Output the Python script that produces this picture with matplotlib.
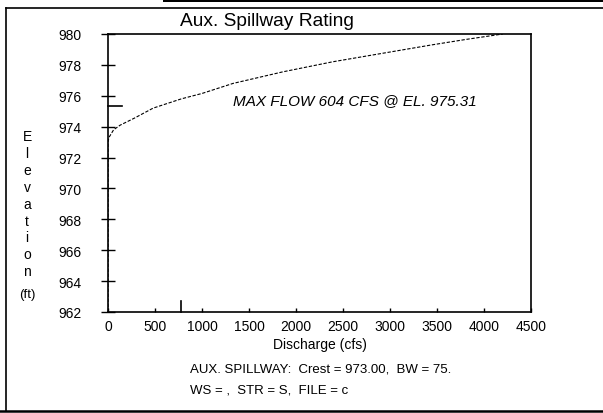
import numpy as np
import matplotlib.pyplot as plt
from matplotlib.lines import Line2D
from matplotlib.patches import Rectangle

# rating curve
discharge = [0, 0, 10, 60, 130, 280, 480, 780, 1000, 1330, 1860, 2390, 2920, 3450, 3810, 4200]
elevation = [962, 973.0, 973.3, 973.8, 974.1, 974.55, 975.2, 975.8, 976.15, 976.8,
             977.55, 978.2, 978.75, 979.3, 979.65, 980.0]

xticks = [0, 500, 1000, 1500, 2000, 2500, 3000, 3500, 4000, 4500]
yticks = [962, 964, 966, 968, 970, 972, 974, 976, 978, 980]

max_el = 975.31
mark_q = 780

title = 'Aux. Spillway Rating'
note = 'MAX FLOW 604 CFS @ EL. 975.31'
footer1 = 'AUX. SPILLWAY:  Crest = 973.00,  BW = 75.'
footer2 = 'WS = ,  STR = S,  FILE = c'

plt.rcParams['font.family'] = ['Liberation Sans', 'DejaVu Sans']

W, H = 603, 414
fig = plt.figure(figsize=(W/100, H/100), dpi=100)
ax = fig.add_axes([108/W, 1-313/H, (531-108)/W, (313-35)/H])

ax.plot(discharge, elevation, color='k', lw=0.8, ls=(0, (3, 1.5)))

ax.set_xlim(0, 4500)
ax.set_ylim(962, 980)
ax.set_xticks(xticks)
ax.set_yticks(yticks)
ax.tick_params(axis='y', direction='inout', length=10, width=1, pad=14, labelsize=10)
ax.tick_params(axis='x', direction='in', length=3, width=1, pad=5, labelsize=10)
for s in ax.spines.values():
    s.set_linewidth(1.2)

# max flow markers
ax.plot([0, 150], [max_el, max_el], color='k', lw=1.2, clip_on=False)
ax.plot([mark_q, mark_q], [962, 962.7], color='k', lw=1.2, clip_on=False)

ax.text(0.295, 0.762, note, transform=ax.transAxes, ha='left', va='center',
        fontsize=11, style='italic')

ax.set_xlabel('Discharge (cfs)', fontsize=10, labelpad=3)

fig.text(267/W, 1-22/H, title, ha='center', va='center', fontsize=13.8)

for i, ch in enumerate('Elevation'):
    fig.text(27/W, 1-(137+i*16.9)/H, ch, ha='center', va='center', fontsize=10)
fig.text(27/W, 1-295/H, '(ft)', ha='center', va='center', fontsize=9.5)

fig.text(190/W, 1-370/H, footer1, ha='left', va='center', fontsize=9.5)
fig.text(190/W, 1-391/H, footer2, ha='left', va='center', fontsize=9.5)

# page frame from the scan
fig.add_artist(Line2D([6/W, 6/W], [1-412/H, 1-9/H], color='k', lw=1.2))
fig.add_artist(Line2D([6/W, 1], [1-9/H, 1-9/H], color='k', lw=1.2))
fig.add_artist(Line2D([0, 1], [1-411.5/H, 1-411.5/H], color='k', lw=1.8))
fig.add_artist(Rectangle((163/W, 1-3/H), 1-163/W, 3/H, color='k', lw=0))

fig.savefig('out.png', dpi=100)
